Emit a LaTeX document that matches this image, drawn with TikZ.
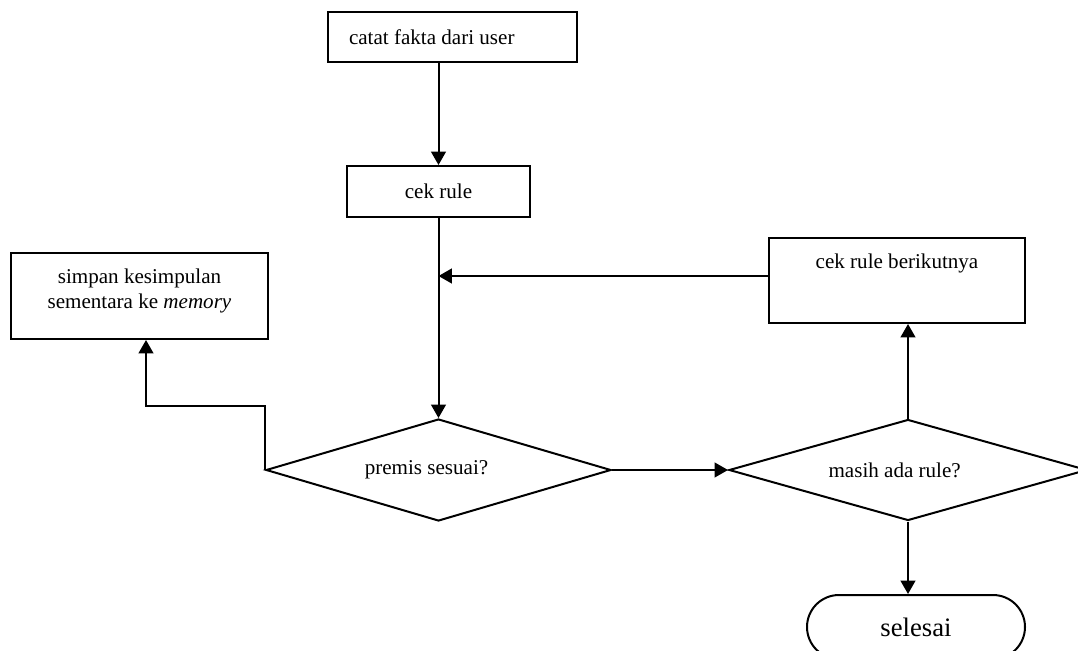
\documentclass[tikz,border=0pt]{standalone}
\usepackage{fontspec}
\setmainfont{Liberation Serif}
\usetikzlibrary{arrows.meta,shapes.geometric,shapes.misc}

\begin{document}
\begin{tikzpicture}[x=0.75pt,y=-0.75pt,line width=1.5pt,line join=miter,
        every node/.style={font=\fontsize{15.8pt}{18.8pt}\selectfont},
        box/.style={draw,rectangle,inner sep=0pt},
        cond/.style={draw,diamond,inner sep=0pt},
        toptext/.style={anchor=north,inner sep=0pt,align=center},
        flow/.style={-{Triangle[length=10pt,width=11pt]}}]
        \useasboundingbox (0,0) rectangle (1078,650);
        % kotak proses
        \node[box,minimum width=186.75pt,minimum height=37.5pt] (catat) at (452.5,37) {};
        \node[anchor=west,inner sep=0pt] (catatText) at ([xshift=15.75pt]catat.west) {catat fakta dari user};
        \node[box,minimum width=137.25pt,minimum height=38.25pt] (cekrule) at (438.5,191.5) {cek rule};
        \node[box,minimum width=192.75pt,minimum height=64.5pt] (simpan) at (139.5,296) {};
        \node[toptext] (simpanText) at ([yshift=-12pt]simpan.north) {simpan kesimpulan\\sementara ke \textit{memory}};
        \node[box,minimum width=192pt,minimum height=63.75pt] (berikut) at (897,280.5) {};
        \node[toptext] (berikutText) at ([yshift=-12pt]berikut.north) {cek rule berikutnya};
        % keputusan
        \node[cond,minimum width=258.75pt,minimum height=76.5pt] (premis) at (438.5,470) {};
        \node (premisText) at ([xshift=-9pt]premis.center) {premis sesuai?};
        \node[cond,minimum width=268.5pt,minimum height=75.75pt] (masih) at (908,470) {};
        \node (masihText) at ([xshift=-10pt]masih.center) {masih ada rule?};
        \node[draw,rounded rectangle,minimum width=163.5pt,minimum height=48pt,inner sep=0pt,
            font=\fontsize{20pt}{24pt}\selectfont] (selesai) at (916,627) {selesai};
        % panah
        \coordinate (join) at (438.5,276);
        \coordinate (bend) at (146,406);
        \draw[flow] (catat.south -| cekrule.north) -- (cekrule.north);
        \draw[flow] (cekrule.south) -- (premis.north);
        \draw[flow] (berikut.west |- join) -- (join);
        \draw[flow] (premis.west) |- (bend) -- (bend |- simpan.south);
        \draw[flow] (premis.east) -- (masih.west);
        \draw[flow] (masih.north) -- (masih.north |- berikut.south);
        \draw[flow] (masih.south) -- (masih.south |- selesai.north);
\end{tikzpicture}
\end{document}
